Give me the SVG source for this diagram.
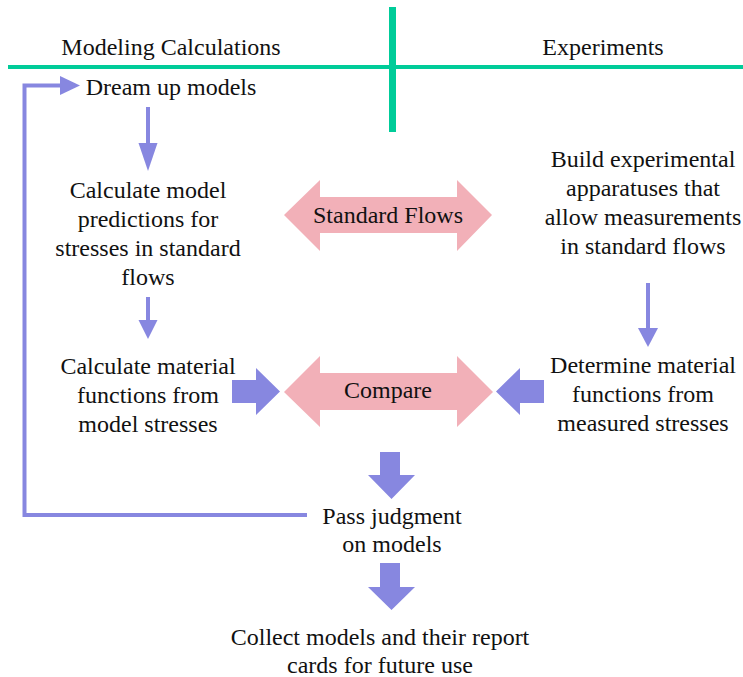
<svg xmlns="http://www.w3.org/2000/svg" width="743" height="677" viewBox="0 0 743 677">
  <style>
    text { font-family: "Liberation Serif", "Times New Roman", serif; font-size: 24px; fill: #111; text-anchor: middle; }
    .divider { stroke: #00cc99; fill: none; }
    .flow { stroke: #8787e0; stroke-width: 4; fill: none; }
    .head { fill: #8787e0; }
    .pink { fill: #f2b0b8; }
  </style>

  <!-- column dividers -->
  <g id="dividers">
    <line class="divider" x1="8" y1="67" x2="743" y2="67" stroke-width="4"/>
    <line class="divider" x1="392.5" y1="7" x2="392.5" y2="132" stroke-width="7"/>
  </g>

  <g id="header-modeling"><text x="171" y="55">Modeling Calculations</text></g>
  <g id="header-experiments"><text x="603" y="55">Experiments</text></g>

  <!-- connectors -->
  <g id="connectors">
    <!-- feedback loop back to the start -->
    <polyline class="flow" points="307,515 24.5,515 24.5,85.5 62,85.5"/>
    <polygon class="head" points="60,76 80,85.5 60,95"/>

    <!-- thin down arrows -->
    <line class="flow" x1="148" y1="107" x2="148" y2="145"/>
    <polygon class="head" points="138.5,143 157.5,143 148,171"/>
    <line class="flow" x1="148" y1="297" x2="148" y2="322"/>
    <polygon class="head" points="138.5,320 157.5,320 148,339"/>
    <line class="flow" x1="648" y1="283" x2="648" y2="330"/>
    <polygon class="head" points="638,328 658,328 648,347"/>

    <!-- block arrows into Compare -->
    <polygon class="head" points="232,380 256,380 256,368 280,391.5 256,415 256,403 232,403"/>
    <polygon class="head" points="544,380 520,380 520,368 496,391.5 520,415 520,403 544,403"/>

    <!-- block arrows down the centre -->
    <polygon class="head" points="380,452 400,452 400,475 415,475 391.5,499 368,475 380,475"/>
    <polygon class="head" points="380,563 400,563 400,587 415,587 391.5,610 368,587 380,587"/>
  </g>

  <g id="dream-up"><text x="171" y="95">Dream up models</text></g>

  <g id="calc-predictions">
    <text x="148" y="198">Calculate model</text>
    <text x="148" y="227">predictions for</text>
    <text x="148" y="256">stresses in standard</text>
    <text x="148" y="285">flows</text>
  </g>

  <g id="standard-flows">
    <polygon class="pink" points="284,215 320,180 320,197 457,197 457,180 492,215 457,251 457,233 320,233 320,251"/>
    <text x="388" y="223">Standard Flows</text>
  </g>

  <g id="build-apparatus">
    <text x="643" y="167">Build experimental</text>
    <text x="643" y="196">apparatuses that</text>
    <text x="643" y="225">allow measurements</text>
    <text x="643" y="254">in standard flows</text>
  </g>

  <g id="calc-material">
    <text x="148" y="374">Calculate material</text>
    <text x="148" y="403">functions from</text>
    <text x="148" y="432">model stresses</text>
  </g>

  <g id="compare">
    <polygon class="pink" points="284,392 320,356 320,373 457,373 457,356 493,392 457,427 457,410 320,410 320,427"/>
    <text x="388" y="398">Compare</text>
  </g>

  <g id="determine-material">
    <text x="643" y="373">Determine material</text>
    <text x="643" y="402">functions from</text>
    <text x="643" y="431">measured stresses</text>
  </g>

  <g id="judgment">
    <text x="392" y="524">Pass judgment</text>
    <text x="392" y="552">on models</text>
  </g>

  <g id="collect">
    <text x="380" y="645">Collect models and their report</text>
    <text x="380" y="673">cards for future use</text>
  </g>
</svg>
